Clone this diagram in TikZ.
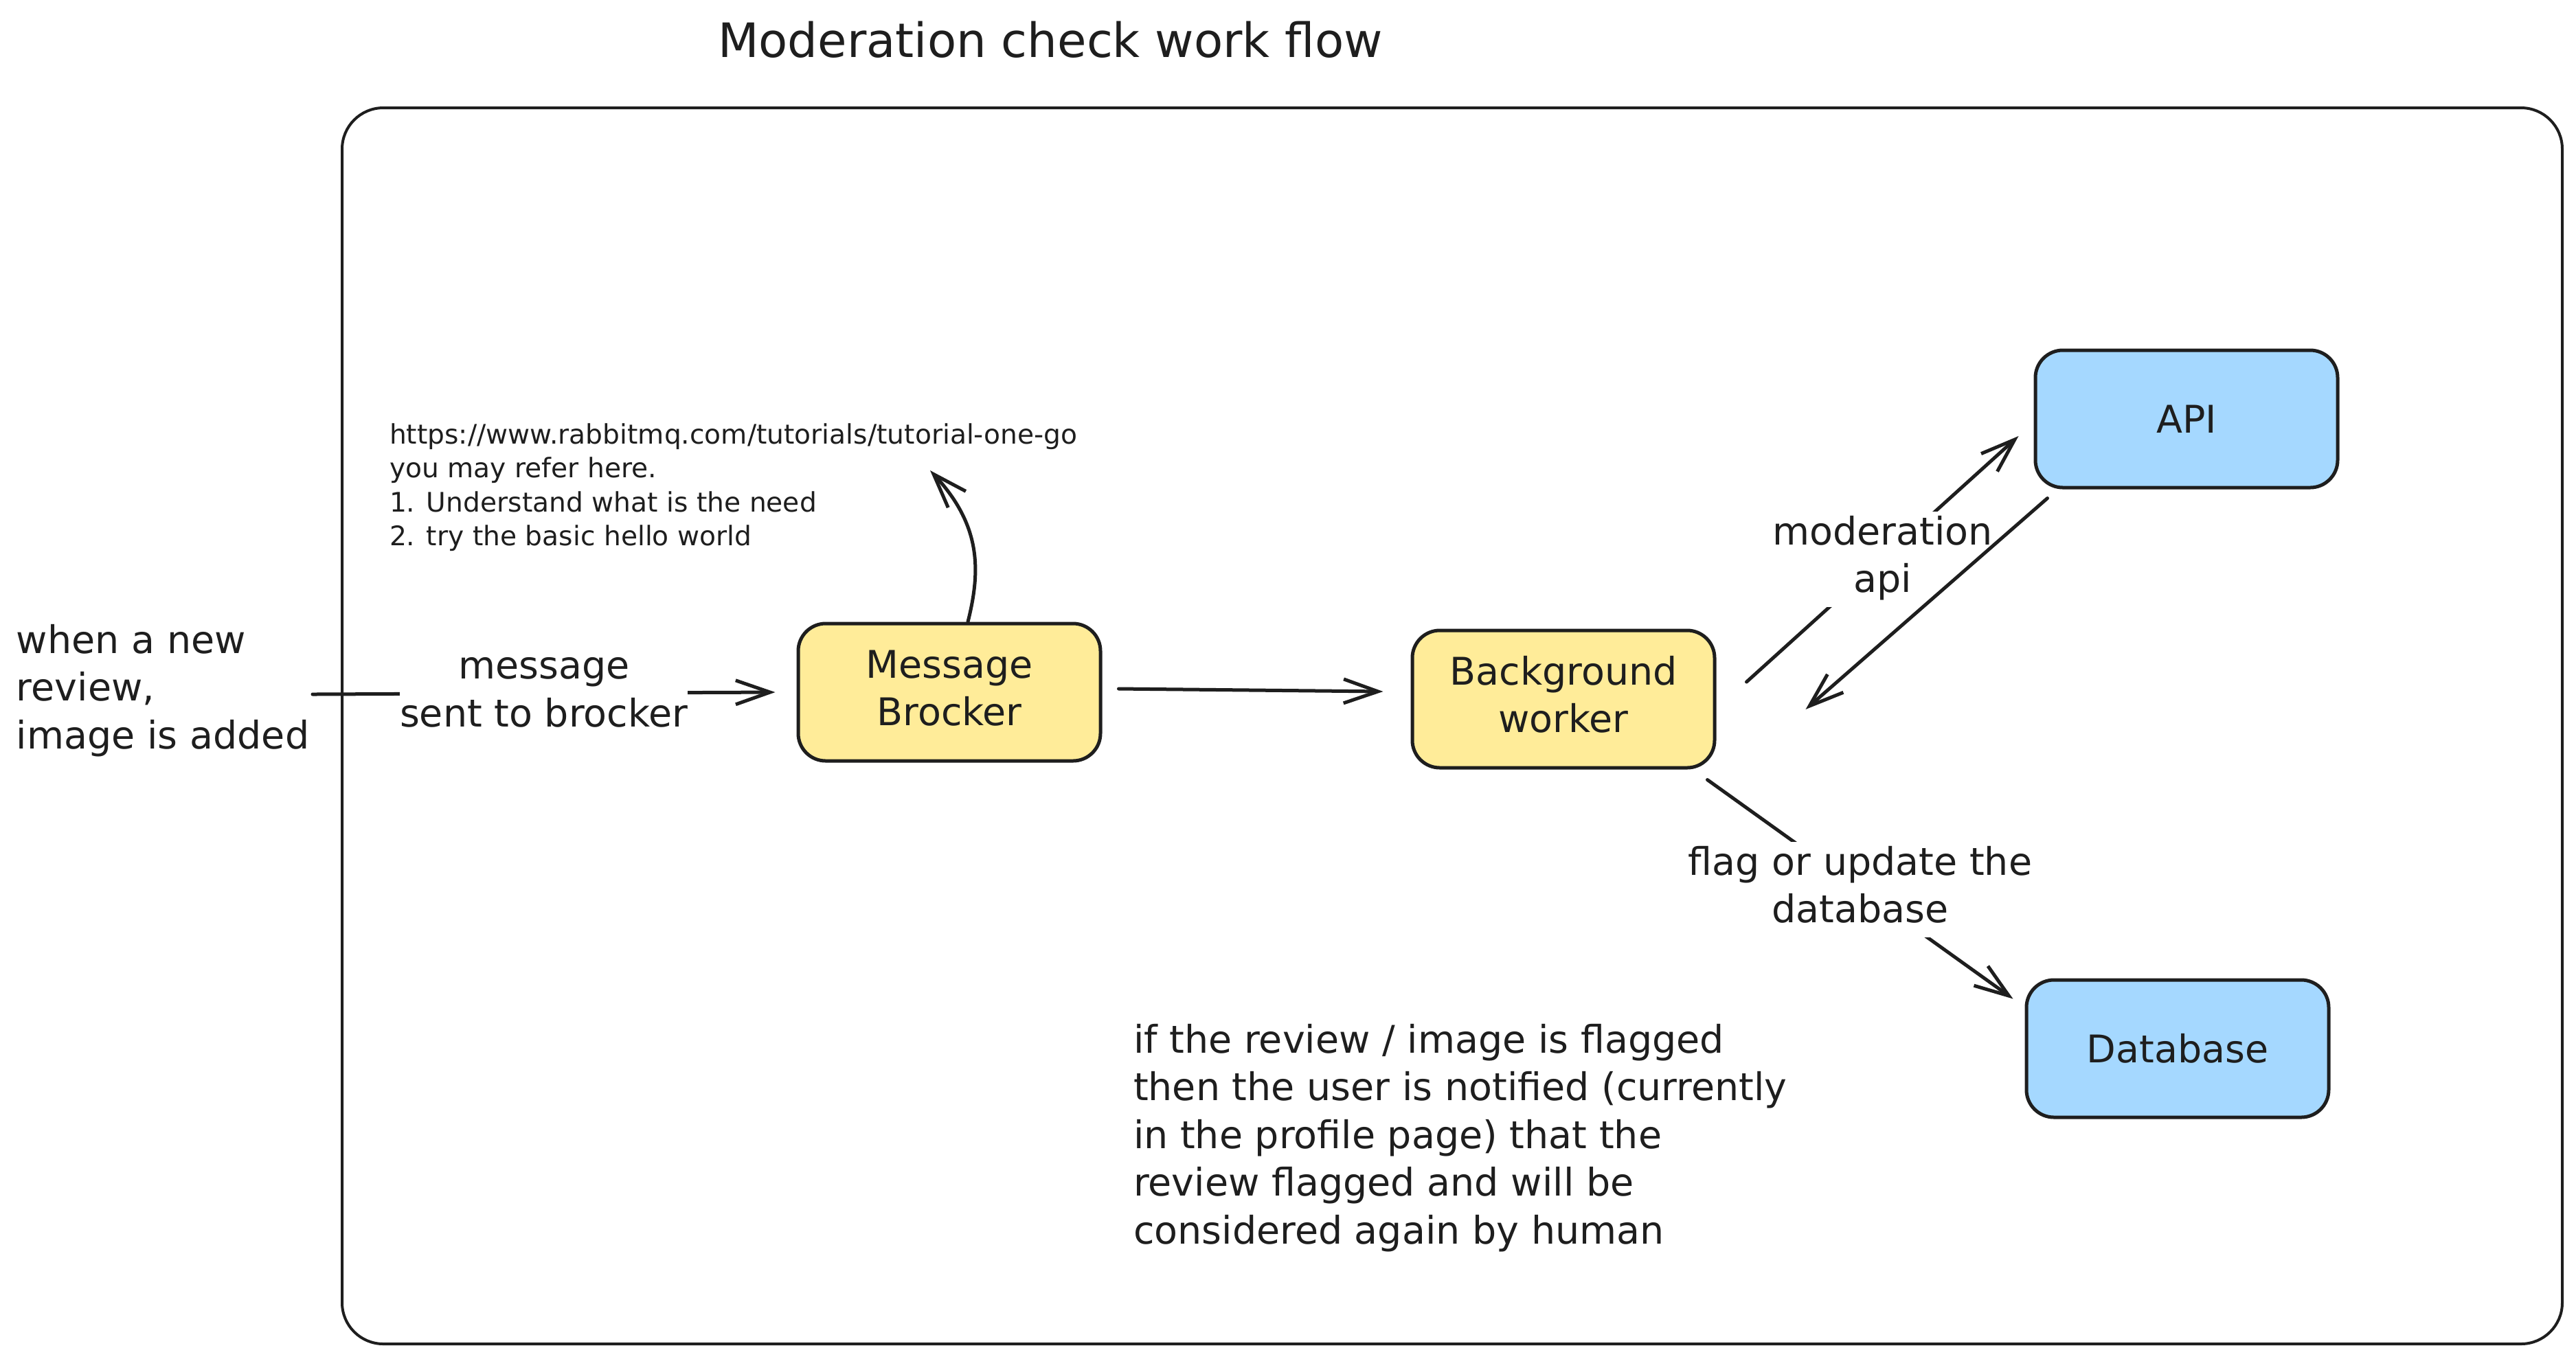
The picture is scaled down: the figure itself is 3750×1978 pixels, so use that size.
\documentclass[tikz,border=0pt]{standalone}
\usepackage{fontspec}
\setmainfont{DejaVu Sans}
\usetikzlibrary{arrows.meta,calc}
\definecolor{ink}{HTML}{1E1E1E}
\definecolor{yel}{HTML}{FFEC99}
\definecolor{blu}{HTML}{A5D8FF}
\newcommand{\txtA}{\fontsize{11.1pt}{13.9pt}\selectfont}
\newcommand{\txtNote}{\fontsize{7.84pt}{9.9pt}\selectfont}
\newcommand{\txtTitle}{\fontsize{13.8pt}{17pt}\selectfont}
\begin{document}
\begin{tikzpicture}[x=0.2pt,y=-0.2pt,
  box/.style={draw=ink, line width=1pt, rounded corners=8pt, minimum width=88pt,
    minimum height=40pt, inner sep=0pt, align=center, font=\txtA, text=ink},
  lbl/.style={font=\txtA, text=ink, align=center, fill=white, inner sep=0pt},
  txt/.style={font=\txtA, text=ink, align=left, inner sep=0pt, anchor=north west},
  arr/.style={draw=ink, line width=1pt, line cap=round,
    -{Straight Barb[length=10pt,width=7pt,line width=1pt]}}
]
\useasboundingbox (0,0) rectangle (3750,1978);
\fill[white] (0,0) rectangle (3750,1978);

% frame
\draw[ink, line width=0.8pt, rounded corners=12pt] (498,157) rectangle (3730,1957);

% title
\node[anchor=base, font=\txtTitle, text=ink, inner sep=0pt] (title) at (1529,83) {Moderation check work flow};

% boxes
\node[box, fill=yel] (MB) at (1382,1008) {\strut Message\\\strut Brocker};
\node[box, fill=yel] (BW) at (2276,1018) {\strut Background\\\strut worker};
\node[box, fill=blu] (API) at (3183,610) {API};
\node[box, fill=blu] (DB) at (3170,1527) {Database};

% texts
\node[txt] (when) at (23,901.35) {\strut when a new\\\strut review,\\\strut image is added};
\node[txt, font=\txtNote] (note) at (566,610.35) {\strut https://www.rabbitmq.com/tutorials/tutorial-one-go\\\strut you may refer here.\\\strut 1. Understand what is the need\\\strut 2. try the basic hello world};
\node[txt] (flagnote) at (1649,1483.35) {\strut if the review / image is flagged\\\strut then the user is notified (currently\\\strut in the profile page) that the\\\strut review flagged and will be\\\strut considered again by human};

% connectors
\coordinate (inS) at (455,1011);
\coordinate (noteTip) at (1354,685);
\draw[arr] (inS) -- ($(MB.west)+(-31,0)$)
  node[lbl, midway] {\strut message\\\strut sent to brocker};
\draw[arr] ($(MB.east)+(24,-5)$) -- ($(BW.west)+(-40,-11)$);
\draw[arr] ($(MB.north)+(27,0)$) .. controls (1428,830) and (1428,765) .. (noteTip);
\draw[arr] ($(BW.east)+(44,-25)$) -- ($(API.west)+(-22,25)$)
  node[lbl, midway] {\strut moderation\\\strut api};
\draw[arr] ($(API.south west)+(20,13)$) -- ($(BW.east)+(130,15)$);
\draw[arr] ($(BW.south east)+(-13,15)$) -- ($(DB.north west)+(-17,30)$)
  node[lbl, midway] {\strut flag or update the\\\strut database};
\end{tikzpicture}
\end{document}
